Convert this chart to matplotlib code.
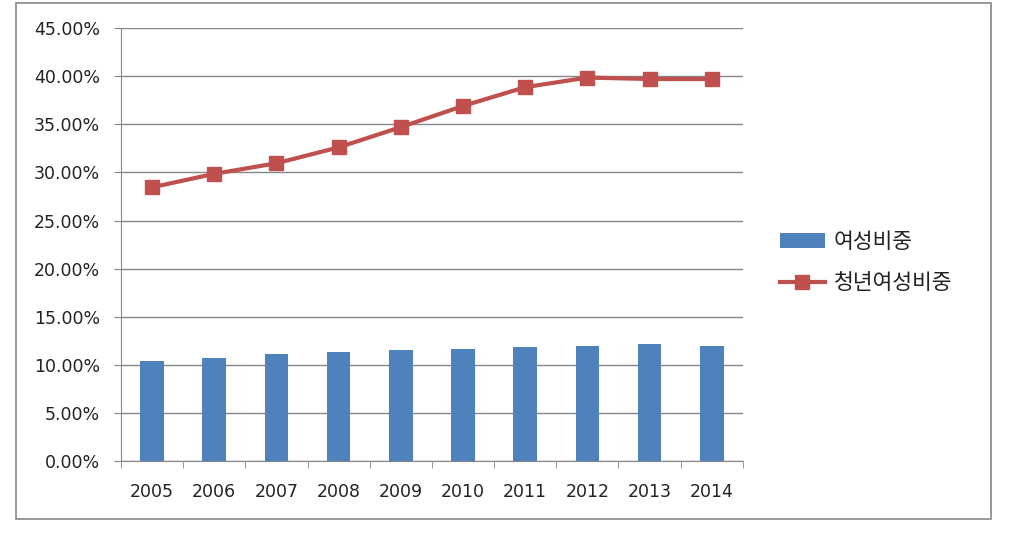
import matplotlib.pyplot as plt
import matplotlib.patches as patches
from matplotlib.ticker import FuncFormatter, FixedLocator

plt.rcParams['font.family'] = ['DejaVu Sans', 'Noto Sans CJK KR']

# 데이터
years = ['2005', '2006', '2007', '2008', '2009', '2010', '2011', '2012', '2013', '2014']
female_share = [10.4, 10.75, 11.1, 11.3, 11.5, 11.65, 11.85, 12.0, 12.2, 12.0]
young_female_share = [28.45, 29.85, 30.95, 32.6, 34.7, 36.9, 38.85, 39.85, 39.7, 39.7]

bar_color = '#4F81BD'
line_color = '#C0504D'
grid_color = '#868686'

fig = plt.figure(figsize=(10.11, 5.49), dpi=100)
ax = fig.add_axes([0.1197, 0.160, 0.615, 0.789])

x = list(range(len(years)))
bars = ax.bar(x, female_share, width=0.38, color=bar_color, label='여성비중', zorder=2)
line, = ax.plot(x, young_female_share, color=line_color, lw=3, marker='s', markersize=10,
                label='청년여성비중', zorder=3)

ax.set_xlim(-0.5, 9.5)
ax.set_ylim(0, 45)
ax.set_yticks([i * 5 for i in range(10)])
ax.yaxis.set_major_formatter(FuncFormatter(lambda v, p: f'{v:.2f}%'))
ax.grid(axis='y', color=grid_color, lw=1, zorder=0)

ax.set_xticks(x)
ax.set_xticklabels(years)
ax.xaxis.set_minor_locator(FixedLocator([i - 0.5 for i in range(len(years) + 1)]))
ax.tick_params(axis='x', which='major', length=0, pad=16, labelsize=12.5, colors='#222222')
ax.tick_params(axis='x', which='minor', length=5, color=grid_color)
ax.tick_params(axis='y', length=5, color=grid_color, labelsize=12.5, labelcolor='#222222', pad=10)

for s in ['top', 'right']:
    ax.spines[s].set_visible(False)
for s in ['left', 'bottom']:
    ax.spines[s].set_color(grid_color)

# 범례
leg = fig.legend([bars, line], ['여성비중', '청년여성비중'], loc='center left',
                 bbox_to_anchor=(0.752, 0.522), frameon=False,
                 prop={'family': 'Noto Sans CJK KR', 'size': 15.5},
                 handlelength=2.1, labelspacing=0.9, handletextpad=0.4)
for t in leg.get_texts():
    t.set_color('#222222')

# 외곽 테두리
fig.patches.append(patches.Rectangle((0.0158, 0.0546), 0.9644, 0.940, transform=fig.transFigure,
                                     fill=False, edgecolor='#888888', lw=1.2))

fig.savefig('out.png', dpi=100)
